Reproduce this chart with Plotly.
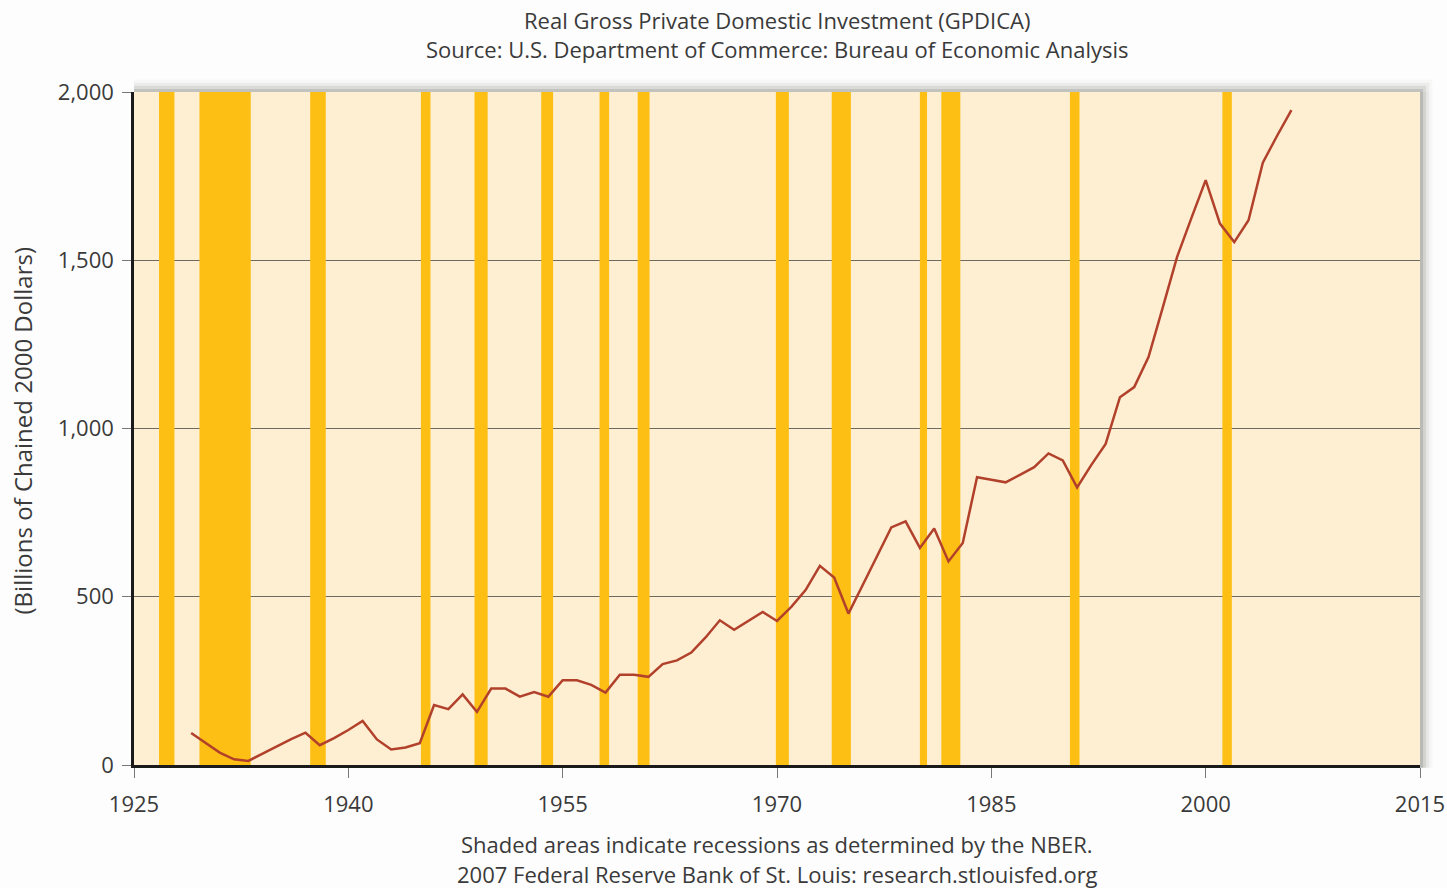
import plotly.graph_objects as go

years = list(range(1929, 2007))
investment = [
    95, 66, 37, 17, 12, 34, 56, 77, 96, 59,          # 1929-1938
    80, 104, 131, 76, 46, 52, 65, 178, 166, 210,     # 1939-1948
    158, 227, 227, 203, 217, 203, 252, 252, 238, 215,  # 1949-1958
    268, 268, 262, 300, 311, 334, 379, 430, 402, 428,  # 1959-1968
    455, 428, 470, 520, 592, 557, 450, 535, 620, 706,  # 1969-1978
    724, 645, 703, 605, 660, 855, 848, 840, 862, 885,  # 1979-1988
    926, 905, 825, 892, 954, 1093, 1123, 1212, 1360, 1510,  # 1989-1998
    1625, 1738, 1609, 1554, 1619, 1790, 1870, 1946   # 1999-2006
]

# NBER recessions (start, end) in decimal years
recession_start = [1926.75, 1929.58, 1937.33, 1945.08, 1948.83, 1953.5, 1957.58,
                   1960.25, 1969.92, 1973.83, 1980.0, 1981.5, 1990.5, 2001.17]
recession_end = [1927.83, 1933.17, 1938.42, 1945.75, 1949.75, 1954.33, 1958.25,
                 1961.08, 1970.83, 1975.17, 1980.5, 1982.83, 1991.17, 2001.83]

x_ticks = [1925, 1940, 1955, 1970, 1985, 2000, 2015]
y_ticks = [0, 500, 1000, 1500, 2000]

FONT = "Open Sans"
TXT = "#3a3a3a"

fig = go.Figure()
fig.add_trace(go.Scatter(x=years, y=investment, mode="lines",
                         line=dict(color="#B2412C", width=2.5),
                         showlegend=False, hoverinfo="x+y"))

shapes = []
for s, e in zip(recession_start, recession_end):
    shapes.append(dict(type="rect", xref="x", yref="y", x0=s, x1=e, y0=0, y1=2000,
                       fillcolor="#FDBF14", line=dict(width=0), layer="between"))

# soft shadow around plot top and right
for i, op in enumerate([0.35, 0.22, 0.12, 0.06]):
    d = (i + 1) * 0.0024
    shapes.append(dict(type="rect", xref="paper", yref="paper",
                       x0=1.0, x1=1.0 + d, y0=-0.004, y1=1.0,
                       fillcolor="#8a8a80", opacity=op, line=dict(width=0), layer="above"))
    shapes.append(dict(type="rect", xref="paper", yref="paper",
                       x0=0.0, x1=1.0 + d, y0=1.0, y1=1.0 + d * 1.9,
                       fillcolor="#8a8a80", opacity=op * 0.8, line=dict(width=0), layer="above"))

fig.update_layout(
    width=1447, height=888,
    margin=dict(l=134, r=27, t=92, b=123, autoexpand=False),
    paper_bgcolor="#FDFDFD",
    plot_bgcolor="#FEEFD3",
    font=dict(family=FONT, color=TXT, size=20),
    shapes=shapes,
    xaxis=dict(range=[1925, 2015], tickvals=x_ticks, ticktext=[str(v) for v in x_ticks],
               showgrid=False, zeroline=False, showline=True, linecolor="#1a1a1a",
               linewidth=2.5, ticks="outside", ticklen=10, tickcolor="#777",
               tickwidth=1, tickfont=dict(size=22, family=FONT, color=TXT),
               ticklabelstandoff=8, fixedrange=True, automargin=False),
    yaxis=dict(range=[0, 2000], tickvals=y_ticks, tickformat=",",
               showgrid=True, gridcolor="#6d6a60", gridwidth=1, zeroline=False,
               showline=True, linecolor="#1a1a1a", linewidth=2.5,
               ticks="outside", ticklen=9, tickcolor="#777", tickwidth=1,
               tickfont=dict(size=22, family=FONT, color=TXT),
               ticklabelstandoff=4, fixedrange=True, automargin=False),
    annotations=[
        dict(text="Real Gross Private Domestic Investment (GPDICA)", xref="paper", yref="paper",
             x=0.5, y=1.0, yshift=72, xanchor="center", yanchor="middle", showarrow=False,
             font=dict(size=22, family=FONT, color=TXT)),
        dict(text="Source: U.S. Department of Commerce: Bureau of Economic Analysis", xref="paper", yref="paper",
             x=0.5, y=1.0, yshift=43, xanchor="center", yanchor="middle", showarrow=False,
             font=dict(size=22, family=FONT, color=TXT)),
        dict(text="Shaded areas indicate recessions as determined by the NBER.", xref="paper", yref="paper",
             x=0.5, y=0.0, yshift=-79, xanchor="center", yanchor="middle", showarrow=False,
             font=dict(size=22, family=FONT, color=TXT)),
        dict(text="2007 Federal Reserve Bank of St. Louis: research.stlouisfed.org", xref="paper", yref="paper",
             x=0.5, y=0.0, yshift=-109, xanchor="center", yanchor="middle", showarrow=False,
             font=dict(size=22, family=FONT, color=TXT)),
        dict(text="(Billions of Chained 2000 Dollars)", xref="paper", yref="paper",
             x=0.0, xshift=-112, y=0.5, yshift=-2, xanchor="center", yanchor="middle", textangle=-90,
             showarrow=False, font=dict(size=24, family=FONT, color=TXT)),
    ],
)

fig.write_html("out.html", config={"displayModeBar": False},
               post_script="document.body.style.margin='0';document.body.style.overflow='hidden';")
